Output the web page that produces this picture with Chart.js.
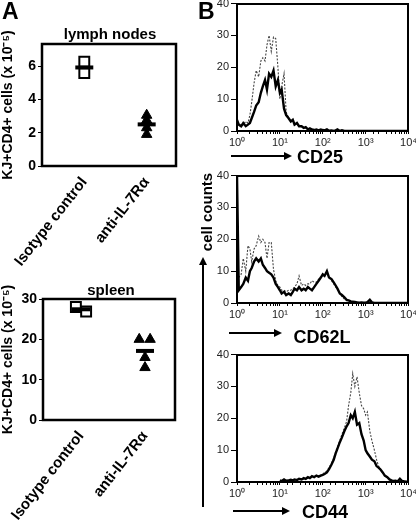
<!DOCTYPE html>
<html>
<head>
<meta charset="utf-8">
<script src="https://cdn.jsdelivr.net/npm/chart.js@4.4.1/dist/chart.umd.min.js"></script>
<style>
  html, body { margin: 0; padding: 0; background: #fff; }
  #fig { position: relative; width: 416px; height: 521px; overflow: hidden; font-family: 'Liberation Sans', Arial, sans-serif; }
  #fig canvas { position: absolute; }
  .t { position: absolute; font-weight: bold; line-height: 1; white-space: nowrap; color: #000; }
  .c { transform: translate(-50%, -50%); }
  .box { position: absolute; box-sizing: border-box; border: 2.5px solid #000; pointer-events: none; z-index: 5; }
  .arrow { position: absolute; height: 2px; background: #000; }
  .arrow::after { content: ''; position: absolute; right: -8px; top: -3px; border-left: 8px solid #000; border-top: 4px solid transparent; border-bottom: 4px solid transparent; }
  .varrow { position: absolute; width: 2px; background: #000; }
  .varrow::after { content: ''; position: absolute; top: -8px; left: -3px; border-bottom: 8px solid #000; border-left: 4px solid transparent; border-right: 4px solid transparent; }
</style>
</head>
<body>
<div id="fig">
  <canvas id="lymph" width="200" height="270" style="left:0;top:0"></canvas>
  <canvas id="spleen" width="200" height="251" style="left:0;top:270px"></canvas>
  <canvas id="cd25" width="207" height="155" style="left:212px;top:-5px"></canvas>
  <canvas id="cd62l" width="207" height="155" style="left:212px;top:167px"></canvas>
  <canvas id="cd44" width="207" height="155" style="left:212px;top:346px"></canvas>

  <!-- histogram frames -->
  <div class="box" style="left:236px;top:3px;width:173px;height:129px"></div>
  <div class="box" style="left:236px;top:175px;width:173px;height:129px"></div>
  <div class="box" style="left:236px;top:354px;width:173px;height:129px"></div>

  <div class="t" style="left:2px;top:0;font-size:23px">A</div>
  <div class="t" style="left:198px;top:0;font-size:23px">B</div>
  <div class="t c" style="left:110px;top:33px;font-size:15px">lymph nodes</div>
  <div class="t c" style="left:111px;top:289px;font-size:15px">spleen</div>

  <div class="arrow" style="left:231px;top:155px;width:53px"></div>
  <div class="t c" style="left:320px;top:157px;font-size:18px">CD25</div>
  <div class="arrow" style="left:229px;top:332px;width:45px"></div>
  <div class="t c" style="left:322px;top:337px;font-size:18px">CD62L</div>
  <div class="arrow" style="left:233px;top:510px;width:49px"></div>
  <div class="t c" style="left:325px;top:512px;font-size:18px">CD44</div>

  <div class="t c" style="left:206px;top:212px;font-size:15px;transform:translate(-50%,-50%) rotate(-90deg)">cell counts</div>
  <div class="varrow" style="left:202px;top:265px;height:242px"></div>
</div>

<script>
  // Panel A: dot plots
  const groups = ['Isotype control', 'anti-IL-7R\u03b1'];
  const lymphIsotype = [6.26, 5.58];
  const lymphAnti = [3.05, 2.75, 2.3, 1.9];
  const spleenIsotype = [28.0, 26.9];
  const spleenAnti = [20.0, 20.0, 15.5, 13.0];
  const lymphTicks = [0, 2, 4, 6];
  const spleenTicks = [0, 10, 20, 30];

  // Panel B: histograms (log channels)
  const channels = [1, 1.1, 1.25, 1.4, 1.6, 1.8, 2, 2.2, 2.5, 2.8,
    3.2, 3.6, 4, 4.5, 5, 5.6, 6.3, 7.1, 8, 9,
    10, 11, 12.5, 14, 16, 18, 20, 22, 25, 28,
    32, 36, 40, 45, 50, 56, 63, 71, 80, 90,
    100, 110, 125, 140, 160, 180, 200, 220, 250, 280,
    320, 360, 400, 450, 500, 560, 630, 710, 800, 900,
    1000, 1100, 1250, 1400, 1600, 1800, 2000, 2200, 2500, 2800,
    3200, 3600, 4000, 4500, 5000, 5600, 6300, 7100, 8000, 9000,
    10000];

  const cd25Solid = [3.5, 2, 1.5, 2.5, 1.5, 2, 2.5, 4, 6, 8,
    9, 12, 14, 16, 13, 18, 17, 19, 14, 16,
    12, 13, 7, 5, 4, 3, 3.5, 2, 2.5, 1.5,
    1.5, 1, 1.2, 0.5, 0.8, 0.5, 0.3, 0.5, 0.2, 0.5,
    0.3, 0.2, 0.5, 0.1, 0.2, 0, 0.2, 0.5, 0, 0.2,
    0, 0, 0, 0, 0, 0, 0, 0, 0, 0,
    0, 0, 0, 0, 0, 0, 0, 0, 0, 0,
    0, 0, 0, 0, 0, 0, 0, 0, 0, 0,
    0];
  const cd25Dashed = [2, 2.5, 1.5, 2, 3, 2.5, 5, 9, 15, 19,
    17, 22, 23, 22, 27, 30, 25, 29.5, 29, 20,
    10, 14, 18, 6, 4, 3, 3, 2, 2.5, 1.5,
    1.5, 1, 1, 0.5, 1, 0.5, 0.5, 0.3, 0.5, 0.2,
    0.3, 0.2, 0.3, 0.1, 0, 0, 0, 0, 0, 0,
    0, 0, 0, 0, 0, 0, 0, 0, 0, 0,
    0, 0, 0, 0, 0, 0, 0, 0, 0, 0,
    0, 0, 0, 0, 0, 0, 0, 0, 0, 0,
    0];

  const cd62lSolid = [40, 4, 5, 6, 8, 7, 10, 11, 13, 14,
    13, 14, 12, 11, 10, 9.5, 9, 8, 6, 5,
    4, 3, 3.5, 2.5, 3, 2.5, 3.5, 4.5, 4, 5,
    4, 4.5, 4, 5, 4.5, 4, 5, 6, 7, 8,
    9, 8.5, 10, 8, 7.5, 6.5, 5.5, 4.5, 3, 2.5,
    1.8, 1, 0.8, 0.5, 0.4, 0.3, 0.2, 0.1, 0.2, 0.1,
    0.1, 0.3, 1, 0.2, 0, 0, 0, 0, 0, 0,
    0, 0, 0, 0, 0, 0, 0, 0, 0, 0,
    0];
  const cd62lDashed = [9, 8, 9, 14, 10, 18, 17, 13, 17, 18,
    21, 19, 20, 19, 14, 19, 19, 10.5, 7, 5.5,
    5, 4, 4, 3.5, 4, 4, 4.5, 5, 6, 8.5,
    5.5, 6, 5.5, 6, 6, 7, 6.5, 6.5, 7.5, 8,
    8.5, 9, 9.5, 8, 7, 6, 5, 4.5, 3, 2,
    1.2, 0.7, 0.5, 0.3, 0.2, 0.1, 0, 0, 0, 0,
    0, 0, 0, 0, 0, 0, 0, 0, 0, 0,
    0, 0, 0, 0, 0, 0, 0, 0, 0, 0,
    0];

  const cd44Solid = [null, null, null, null, null, null, null, null, null, null,
    null, null, null, null, null, null, null, null, null, null,
    0.5, 0.3, 0.8, 0.4, 0.5, 0.7, 0.5, 0.8, 0.6, 1,
    0.8, 1.2, 1, 1.5, 1.2, 1.8, 1.5, 2, 1.7, 2,
    2.2, 2.5, 3, 4, 5.5, 7, 9, 10.5, 12.5, 14,
    16, 17.5, 18.5, 21, 20, 22, 18, 18.5, 15, 13,
    10, 9, 8, 7, 6.5, 5, 4.5, 4, 3, 2,
    1.5, 0.8, 0.5, 0.3, 0.4, 0.2, 1, 0.3, 0.2, 0.1,
    0];
  const cd44Dashed = [null, null, null, null, null, null, null, null, null, null,
    null, null, null, null, null, null, null, null, null, null,
    0.3, 0.5, 0.3, 0.6, 0.5, 0.4, 0.8, 0.5, 0.7, 0.8,
    1, 0.9, 1.3, 1.2, 1.5, 1.4, 1.7, 1.8, 2, 2.2,
    2.4, 3, 3.5, 4.5, 6, 7.5, 9.5, 11, 13, 15,
    17, 19, 24, 28, 34, 30, 33, 28, 24, 23,
    21, 22, 16, 13, 10, 7, 5, 4, 3, 2,
    1.5, 0.8, 0.5, 0.3, 0.2, 0.1, 0.1, 0, 0, 0,
    0];

  const countTicks = [0, 10, 20, 30, 40];
  const decadeLabels = ['10\u2070', '10\u00b9', '10\u00b2', '10\u00b3', '10\u2074'];

  Chart.defaults.font.family = "'Liberation Sans', Arial, sans-serif";
  Chart.defaults.color = '#000';

  const mean = a => a.reduce((s, v) => s + v, 0) / a.length;

  // box round the plot area
  const makeFrame = lineWidth => ({
    id: 'frameBox',
    afterDraw(chart) {
      const { ctx, chartArea: a } = chart;
      ctx.save();
      ctx.strokeStyle = '#000';
      ctx.lineWidth = lineWidth;
      ctx.strokeRect(a.left, a.top, a.right - a.left, a.bottom - a.top);
      ctx.restore();
    }
  });

  function dotPlot(id, iso, anti, isoJit, antiJit, yMax, yTicks, box) {
    return new Chart(document.getElementById(id), {
      type: 'scatter',
      data: {
        datasets: [
          { data: [{ x: 0, y: mean(iso) }, { x: 1, y: mean(anti) }],
            pointStyle: 'line', pointRadius: 9, pointBorderColor: '#000', pointBorderWidth: 4 },
          { data: iso.map((y, i) => ({ x: isoJit[i], y })),
            pointStyle: 'rect', pointRadius: 7, pointBackgroundColor: '#fff', pointBorderColor: '#000', pointBorderWidth: 2 },
          { data: anti.map((y, i) => ({ x: 1 + antiJit[i], y })),
            pointStyle: 'triangle', pointRadius: 6, pointBackgroundColor: '#000', pointBorderColor: '#000', pointBorderWidth: 1 }
        ]
      },
      options: {
        responsive: false, animation: false, events: [],
        layout: { padding: { top: box.top, right: box.right } },
        plugins: { legend: { display: false }, tooltip: { enabled: false } },
        scales: {
          x: {
            type: 'linear', min: box.xMin, max: box.xMax,
            afterFit: s => { s.height = box.xHeight; },
            afterBuildTicks: s => { s.ticks = groups.map((g, i) => ({ value: i })); },
            grid: { display: false }, border: { display: false },
            ticks: { autoSkip: false, minRotation: 52, maxRotation: 52, padding: 0,
              font: { size: 15, weight: 'bold' }, callback: v => groups[v] }
          },
          y: {
            min: 0, max: yMax,
            afterFit: s => { s.width = box.left; },
            afterBuildTicks: s => { s.ticks = yTicks.map(v => ({ value: v })); },
            grid: { drawOnChartArea: false, tickLength: 4, color: '#000' }, border: { display: false },
            ticks: { padding: 2, font: { size: 14, weight: 'bold' } },
            title: { display: true, text: 'KJ+CD4+ cells (x 10\u207b\u2075)', font: { size: 14, weight: 'bold' }, padding: 0 }
          }
        }
      },
      plugins: [makeFrame(2.5)]
    });
  }

  dotPlot('lymph', lymphIsotype, lymphAnti, [0, 0], [0, 0, 0, 0], 7.33, lymphTicks,
    { top: 44, right: 24, left: 42, xHeight: 104, xMin: -0.678, xMax: 1.47 });
  dotPlot('spleen', spleenIsotype, spleenAnti, [-0.08, 0.08], [-0.09, 0.08, 0, 0], 30, spleenTicks,
    { top: 29, right: 25, left: 43, xHeight: 101, xMin: -0.594, xMax: 1.469 });

  function histogram(id, solid, dashed) {
    return new Chart(document.getElementById(id), {
      type: 'line',
      data: {
        datasets: [
          { data: channels.map((x, i) => ({ x, y: solid[i] })), borderColor: '#000', borderWidth: 2.4, pointRadius: 0 },
          { data: channels.map((x, i) => ({ x, y: dashed[i] })), borderColor: '#444', borderWidth: 1.1, borderDash: [2, 1.5], pointRadius: 0 }
        ]
      },
      options: {
        responsive: false, animation: false, events: [],
        layout: { padding: { top: 4, right: 8 } },
        plugins: { legend: { display: false }, tooltip: { enabled: false } },
        scales: {
          x: {
            type: 'logarithmic', min: 1, max: 10000,
            afterFit: s => { s.height = 19; },
            grid: { drawOnChartArea: false, tickLength: 3, color: '#000' },
            border: { display: true, color: '#000', width: 2 },
            ticks: { autoSkip: false, maxRotation: 0, padding: 2, font: { size: 11 }, color: '#222',
              callback: v => {
                const e = Math.log10(v);
                return Math.abs(e - Math.round(e)) < 1e-6 ? decadeLabels[Math.round(e)] : '';
              } }
          },
          y: {
            min: 0, max: 40,
            afterFit: s => { s.width = 25; },
            afterBuildTicks: s => { s.ticks = countTicks.map(v => ({ value: v })); },
            grid: { drawOnChartArea: false, tickLength: 6, color: '#000' },
            border: { display: true, color: '#000', width: 2 },
            ticks: { padding: 2, font: { size: 11 }, color: '#222' }
          }
        }
      }
    });
  }

  histogram('cd25', cd25Solid, cd25Dashed);
  histogram('cd62l', cd62lSolid, cd62lDashed);
  histogram('cd44', cd44Solid, cd44Dashed);
</script>
</body>
</html>
